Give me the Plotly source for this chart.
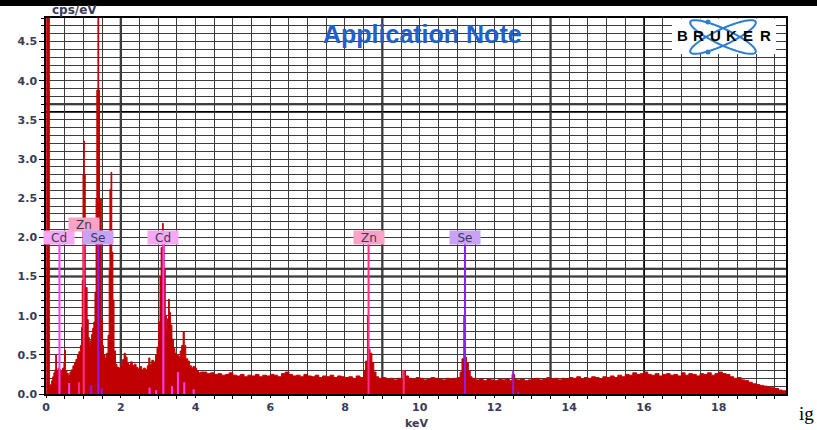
import numpy as np
import plotly.graph_objects as go

# ---------------- data ----------------
# EDX spectrum: channel start energy (keV) and intensity (cps/eV)
spectrum_kev = [
    0.00, 0.02, 0.09, 0.12, 0.15, 0.18, 0.21, 0.24, 0.26, 0.28,
    0.32, 0.36, 0.40, 0.44, 0.48, 0.50, 0.52, 0.56, 0.60, 0.64,
    0.68, 0.72, 0.76, 0.80, 0.84, 0.88, 0.92, 0.95, 0.97, 0.99,
    1.01, 1.025, 1.05, 1.10, 1.13, 1.16, 1.19, 1.22, 1.25, 1.28,
    1.31, 1.34, 1.36, 1.39, 1.41, 1.43, 1.48, 1.51, 1.54, 1.58,
    1.62, 1.66, 1.69, 1.71, 1.74, 1.76, 1.79, 1.82, 1.86, 1.90,
    1.95, 2.00, 2.05, 2.09, 2.13, 2.17, 2.21, 2.26, 2.31, 2.36,
    2.41, 2.46, 2.51, 2.56, 2.61, 2.66, 2.71, 2.75, 2.78, 2.83,
    2.88, 2.93, 2.97, 3.01, 3.05, 3.08, 3.12, 3.135, 3.16, 3.19,
    3.22, 3.25, 3.28, 3.30, 3.33, 3.37, 3.41, 3.45, 3.49, 3.54,
    3.59, 3.63, 3.67, 3.70, 3.74, 3.79, 3.84, 3.89, 3.93, 3.98,
    4.03, 4.08, 4.13,
    4.2, 4.3, 4.4, 4.5, 4.6, 4.7, 4.8, 4.9, 5.0,
    5.1, 5.2, 5.3, 5.4, 5.5, 5.6, 5.7, 5.8, 5.9, 6.0,
    6.1, 6.2, 6.3, 6.4, 6.5, 6.6, 6.7, 6.8, 6.9, 7.0,
    7.1, 7.2, 7.3, 7.4, 7.5, 7.6, 7.7, 7.8, 7.9, 8.0,
    8.1, 8.2, 8.3, 8.4,
    8.50, 8.55, 8.60, 8.62, 8.67, 8.72, 8.77, 8.83,
    8.9, 9.0, 9.1, 9.2, 9.3, 9.4, 9.5,
    9.55, 9.62,
    9.7, 9.8, 9.9, 10.0, 10.1, 10.2, 10.3, 10.4, 10.5, 10.6, 10.7, 10.8, 10.9, 11.0,
    11.08, 11.13, 11.18, 11.20, 11.25, 11.30, 11.35,
    11.4, 11.5, 11.6, 11.7, 11.8, 11.9, 12.0, 12.1, 12.2, 12.3, 12.4,
    12.47, 12.54,
    12.6, 12.7, 12.8, 12.9, 13.0, 13.1, 13.2, 13.3, 13.4, 13.5, 13.6, 13.7, 13.8, 13.9, 14.0,
    14.1, 14.2, 14.3, 14.4, 14.5, 14.6, 14.7, 14.8, 14.9, 15.0,
    15.1, 15.2, 15.3, 15.4, 15.5, 15.6, 15.7, 15.8, 15.9, 16.0,
    16.1, 16.2, 16.3, 16.4, 16.5, 16.6, 16.7, 16.8, 16.9, 17.0,
    17.1, 17.2, 17.3, 17.4, 17.5, 17.6, 17.7, 17.8, 17.9, 18.0,
    18.1, 18.2, 18.3, 18.4, 18.5, 18.6, 18.7, 18.8, 18.9, 19.0,
    19.1, 19.2, 19.3, 19.4, 19.5, 19.6, 19.7, 19.8,
]
spectrum_cps = [
    0.00, 6.00, 0.08, 0.12, 0.17, 0.22, 0.27, 0.31, 0.50, 0.30,
    0.33, 0.31, 0.29, 0.33, 0.40, 0.56, 0.30, 0.26, 0.24, 0.28,
    0.31, 0.36, 0.40, 0.44, 0.50, 0.54, 0.62, 0.85, 1.45, 2.80,
    3.23, 2.80, 1.36, 0.95, 0.72, 0.62, 0.68, 0.76, 0.84, 0.92,
    1.30, 2.49, 3.88, 6.00, 3.88, 2.49, 0.95, 0.62, 0.50, 0.46,
    0.52, 0.75, 1.60, 2.61, 2.83, 1.81, 1.20, 0.55, 0.38, 0.34,
    0.33, 0.36, 0.44, 0.52, 0.47, 0.40, 0.37, 0.41, 0.36, 0.38,
    0.34, 0.32, 0.35, 0.31, 0.33, 0.31, 0.36, 0.46, 0.38, 0.43,
    0.41, 0.50, 0.60, 0.92, 1.50, 1.87, 2.18, 1.99, 1.60, 1.00,
    0.82, 0.96, 1.21, 1.04, 0.88, 0.70, 0.58, 0.52, 0.50, 0.48,
    0.55, 0.62, 0.79, 0.62, 0.45, 0.42, 0.36, 0.33, 0.35, 0.33,
    0.30, 0.27, 0.28,
    0.28, 0.26, 0.27, 0.25, 0.26, 0.24, 0.25, 0.27, 0.24,
    0.23, 0.25, 0.22, 0.24, 0.23, 0.25, 0.22, 0.24, 0.23, 0.25,
    0.24, 0.22, 0.26, 0.28, 0.25, 0.23, 0.24, 0.22, 0.25, 0.23,
    0.22, 0.24, 0.21, 0.23, 0.22, 0.24, 0.21, 0.23, 0.22, 0.21,
    0.22, 0.20, 0.23, 0.21,
    0.30, 0.42, 1.00, 0.57, 0.52, 0.40, 0.28, 0.22,
    0.20, 0.21, 0.19, 0.20, 0.18, 0.20, 0.19,
    0.30, 0.23,
    0.20, 0.19, 0.21, 0.20, 0.18, 0.19, 0.21, 0.20, 0.19, 0.18, 0.20, 0.19, 0.20, 0.21,
    0.28, 0.45, 1.00, 0.47, 0.40, 0.30, 0.22,
    0.20, 0.18, 0.19, 0.17, 0.19, 0.18, 0.17, 0.19, 0.18, 0.19, 0.17,
    0.25, 0.19,
    0.18, 0.19, 0.17, 0.18, 0.19, 0.20, 0.18, 0.19, 0.21, 0.19, 0.20, 0.18, 0.20, 0.19, 0.21,
    0.20, 0.22, 0.19, 0.21, 0.20, 0.22, 0.21, 0.19, 0.22, 0.21,
    0.23, 0.21, 0.24, 0.22, 0.25, 0.24, 0.27, 0.25, 0.26, 0.28,
    0.25, 0.24, 0.26, 0.23, 0.25, 0.26, 0.24, 0.25, 0.23, 0.27,
    0.24, 0.26, 0.25, 0.23, 0.26, 0.25, 0.27, 0.24, 0.26, 0.28,
    0.26, 0.25, 0.22, 0.20, 0.21, 0.18, 0.17, 0.15, 0.13, 0.12,
    0.11, 0.10, 0.09, 0.08, 0.07, 0.05, 0.04, 0.02,
]
assert len(spectrum_kev) == len(spectrum_cps)

# element line markers with labels
marker_elements = ["Cd", "Zn", "Se", "Cd", "Zn", "Se"]
marker_kev = [0.36, 1.01, 1.40, 3.14, 8.63, 11.21]
marker_label_cps = [2.00, 2.16, 2.00, 2.00, 2.00, 2.00]

# short unlabeled element lines
minor_line_element = ["Cd", "Zn", "Se", "Se", "Cd", "Cd", "Cd", "Cd", "Cd", "Cd", "Zn", "Se", "Se"]
minor_line_kev = [0.62, 0.88, 1.21, 1.49, 2.77, 2.95, 3.37, 3.53, 3.70, 3.95, 9.57, 12.50, 12.64]
minor_line_cps = [0.14, 0.15, 0.11, 0.07, 0.08, 0.05, 0.10, 0.28, 0.15, 0.06, 0.30, 0.30, 0.03]

element_line_color = {"Cd": "#FF3CFF", "Zn": "#FF2D8A", "Se": "#8C1EF0"}
element_label_color = {"Cd": "#F6A8F2", "Zn": "#F9A3C6", "Se": "#C9A2F5"}

# heavy "graph paper" lines
thick_grid_kev = [2.0, 9.0, 13.5, 16.0]
thick_grid_cps = [1.5, 1.6, 3.6, 3.7]

X_RANGE = [0, 19.8]
Y_RANGE = [0, 4.8]

# ---------------- figure ----------------
W, H = 817, 430
ML, MR, MT, MB = 46, 31, 18, 36
PW, PH = W - ML - MR, H - MT - MB


def px(xp):
    return (xp - ML) / PW


def py(yp):
    return (H - MB - yp) / PH


fig = go.Figure()

fig.add_trace(go.Scatter(
    x=spectrum_kev, y=spectrum_cps, mode="lines",
    line=dict(color="#C00000", width=1, shape="hv"),
    fill="tozeroy", fillcolor="#C00000", hoverinfo="skip", showlegend=False,
))

LABEL_HALF = 0.085
for el in ["Cd", "Zn", "Se"]:
    xs, ys = [], []
    for e, k, lab in zip(marker_elements, marker_kev, marker_label_cps):
        if e == el:
            xs += [k, k, None]
            ys += [0, lab - LABEL_HALF, None]
    for e, k, v in zip(minor_line_element, minor_line_kev, minor_line_cps):
        if e == el:
            xs += [k, k, None]
            ys += [0, v, None]
    fig.add_trace(go.Scatter(
        x=xs, y=ys, mode="lines",
        line=dict(color=element_line_color[el], width=2),
        hoverinfo="skip", showlegend=False,
    ))

annotations = []
for e, k, lab in zip(marker_elements, marker_kev, marker_label_cps):
    annotations.append(dict(
        x=k, y=lab, xref="x", yref="y", text=e, showarrow=False,
        bgcolor=element_label_color[e], width=30, height=13, borderpad=0,
        font=dict(family="DejaVu Sans", size=12, color="#3a3a58"),
    ))

annotations += [
    dict(x=px(50), y=py(10), xref="paper", yref="paper", text="cps/eV",
         showarrow=False, xanchor="left", yanchor="middle",
         font=dict(family="DejaVu Sans", size=12, color="#3a3a58", weight="bold")),
    dict(x=0.5, y=py(423), xref="paper", yref="paper", text="keV",
         showarrow=False, xanchor="center", yanchor="middle",
         font=dict(family="DejaVu Sans", size=11, color="#3a3a58", weight="bold")),
    dict(x=px(422), y=py(34), xref="paper", yref="paper", text="Application Note",
         showarrow=False, xanchor="center", yanchor="middle",
         font=dict(family="Liberation Sans", size=25, color="#2060C8", weight="bold")),
    dict(x=px(797), y=py(414), xref="paper", yref="paper", text="ig",
         showarrow=False, xanchor="left", yanchor="middle",
         font=dict(family="Liberation Serif", size=19, color="black")),
]
for i, letter in enumerate("BRUKER"):
    annotations.append(dict(
        x=px(682 + i * 16.6), y=py(36), xref="paper", yref="paper", text=letter,
        showarrow=False, xanchor="center", yanchor="middle",
        font=dict(family="Liberation Sans", size=15, color="black", weight="bold"),
    ))

shapes = []
for k in thick_grid_kev:
    shapes.append(dict(type="line", xref="x", yref="paper", x0=k, x1=k, y0=0, y1=1,
                       line=dict(color="black", width=2), layer="between"))
for v in thick_grid_cps:
    shapes.append(dict(type="line", xref="paper", yref="y", x0=0, x1=1, y0=v, y1=v,
                       line=dict(color="black", width=2), layer="between"))

# top black bar
shapes.append(dict(type="rect", xref="paper", yref="paper", x0=px(0), x1=px(W),
                   y0=py(6), y1=py(0), fillcolor="black", line=dict(width=0), layer="above"))
# logo box
shapes.append(dict(type="rect", xref="paper", yref="paper", x0=px(672), x1=px(776),
                   y0=py(54), y1=py(18.5), fillcolor="white", line=dict(width=0), layer="above"))
# atom ellipses of the logo
cx, cy, a, b = 723.0, 37.0, 36.0, 8.0
t = np.linspace(0, 2 * np.pi, 61)
for ang in (np.deg2rad(25), np.deg2rad(-25)):
    ex = cx + a * np.cos(t) * np.cos(ang) - b * np.sin(t) * np.sin(ang)
    ey = cy + a * np.cos(t) * np.sin(ang) + b * np.sin(t) * np.cos(ang)
    path = "M " + " L ".join(f"{px(u):.5f},{py(w):.5f}" for u, w in zip(ex, ey)) + " Z"
    shapes.append(dict(type="path", xref="paper", yref="paper", path=path,
                       line=dict(color="#2C7FD0", width=2), layer="above"))
for dx, dy in ((708, 22), (708, 52)):
    shapes.append(dict(type="circle", xref="paper", yref="paper",
                       x0=px(dx - 2.5), x1=px(dx + 2.5), y0=py(dy + 2.5), y1=py(dy - 2.5),
                       fillcolor="#2C7FD0", line=dict(width=0), layer="above"))

GRID = "#3c3c3c"
tickfont = dict(family="DejaVu Sans", size=11, color="#3a3a58", weight="bold")

fig.update_layout(
    width=W, height=H,
    margin=dict(l=ML, r=MR, t=MT, b=MB),
    paper_bgcolor="white", plot_bgcolor="white",
    showlegend=False,
    annotations=annotations, shapes=shapes,
    xaxis=dict(
        range=X_RANGE, tick0=0, dtick=2, showgrid=True, gridcolor=GRID, gridwidth=1,
        ticks="outside", ticklen=2, tickcolor="black", tickfont=tickfont,
        showline=True, linecolor="black", linewidth=1.5, mirror=True, zeroline=False,
        minor=dict(dtick=0.5, tick0=0, showgrid=True, gridcolor=GRID, gridwidth=1,
                   ticks="outside", ticklen=3, tickcolor="black"),
    ),
    yaxis=dict(
        range=Y_RANGE, tick0=0, dtick=0.5, tickformat=".1f", showgrid=True,
        gridcolor=GRID, gridwidth=1,
        ticks="outside", ticklen=5, tickcolor="black", tickfont=tickfont,
        showline=True, linecolor="black", linewidth=1.5, mirror=True, zeroline=False,
        minor=dict(dtick=0.1, tick0=0, showgrid=True, gridcolor=GRID, gridwidth=1,
                   ticks="outside", ticklen=3, tickcolor="black"),
    ),
)

fig.write_html("out.html", config={"displayModeBar": False},
               post_script="document.body.style.margin='0px';")
